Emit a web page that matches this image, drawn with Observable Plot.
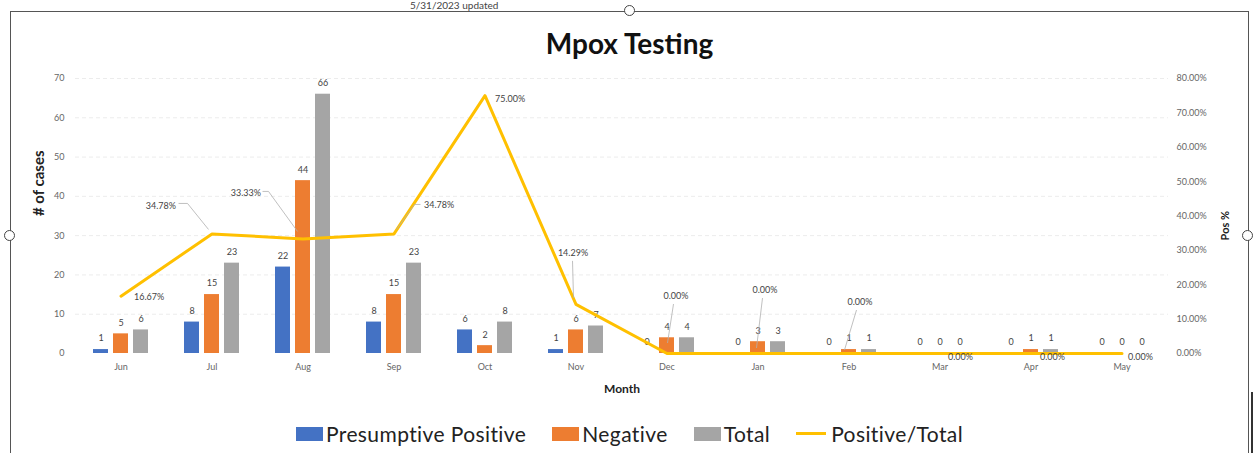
<!DOCTYPE html>
<html>
<head>
<meta charset="utf-8">
<script src="https://cdn.jsdelivr.net/npm/d3@7"></script>
<script src="https://cdn.jsdelivr.net/npm/@observablehq/plot@0.6"></script>
<style>
  html, body { margin: 0; padding: 0; background: #fff; }
  body { width: 1259px; height: 453px; overflow: hidden; position: relative; font-family: Lato, "Open Sans", sans-serif; }
  #stamp { position: absolute; left: 410px; top: 0px; font-size: 10px; line-height: 10px; color: #444; }
  .fr { position: absolute; background: #555; }
  .handle { position: absolute; width: 9px; height: 9px; border: 1.5px solid #444; border-radius: 50%; background: #fff; }
  #title { position: absolute; left: 0; top: 26px; width: 1259px; text-align: center; font-weight: 700; font-size: 28px; color: #111; }
  #chart { position: absolute; left: 0; top: 62px; }
  #legend { position: absolute; left: 0; top: 421px; width: 1259px; display: flex; justify-content: center; align-items: center; font-size: 21px; letter-spacing: 0.4px; color: #222; }
  .item { display: flex; align-items: center; margin: 0 13px; }
  .sw { width: 27px; height: 14px; margin-right: 3px; }
  .ln { width: 30px; height: 3px; margin-right: 5px; }
</style>
</head>
<body>
<div id="stamp">5/31/2023 updated</div>
<div class="fr" style="left:10px;top:11px;width:1239px;height:1px"></div>
<div class="fr" style="left:10px;top:11px;width:1px;height:442px"></div>
<div class="fr" style="left:1248px;top:11px;width:1px;height:442px"></div>
<div class="fr" style="left:1251px;top:392px;width:2px;height:61px;background:#333"></div>
<div class="handle" style="left:624px;top:5px"></div>
<div class="handle" style="left:4px;top:230px"></div>
<div class="handle" style="left:1242px;top:230px"></div>
<div id="title">Mpox Testing</div>
<div id="chart"></div>
<div id="legend"></div>
<script>
// ---- data ----
const months = ["Jun", "Jul", "Aug", "Sep", "Oct", "Nov", "Dec", "Jan", "Feb", "Mar", "Apr", "May"];
const presumptivePositive = [1, 8, 22, 8, 6, 1, 0, 0, 0, 0, 0, 0];
const negative = [5, 15, 44, 15, 2, 6, 4, 3, 1, 0, 1, 0];
const total = [6, 23, 66, 23, 8, 7, 4, 3, 1, 0, 1, 0];
const positiveRate = [16.67, 34.78, 33.33, 34.78, 75.00, 14.29, 0, 0, 0, 0, 0, 0];
const leftTicks = [0, 10, 20, 30, 40, 50, 60, 70];
const rightTicks = [0, 10, 20, 30, 40, 50, 60, 70, 80];
const seriesNames = ["Presumptive Positive", "Negative", "Total", "Positive/Total"];

// ---- styling (not data) ----
const colors = ["#4472C4", "#ED7D31", "#A5A5A5", "#FFC000"];
const barOffsets = [-20, 0, 20];
const k = 70 / 80; // right axis (0–80%) mapped onto left axis (0–70)
// percent label placement relative to its point: [dx, dy, anchor]
const pctLabelPos = [
  [13, 1, "start"], [-36, -28, "end"], [-42, -46, "end"], [30, -29, "start"],
  [10, 3, "start"], [-3, -51, "middle"], [9, -57, "middle"], [7, -63, "middle"],
  [11, -51, "middle"], [8, 4, "start"], [9, 4, "start"], [6, 4, "start"]
];
// leader lines relative to the point
const leaderLines = [
  null, [[-33, -30], [-24, -30], [-3, -4]], [[-40, -47], [-34, -47], [-5, -7]], [[27, -29], [21, -29], [3, -4]],
  null, [[-3, -43], [-2, -6]], [[7, -49], [1, -10]], [[5, -55], [-1, -5]],
  [[8, -43], [-4, -3]], null, null, null
];

const rows = months.map((m, i) => ({
  month: m, pp: presumptivePositive[i], neg: negative[i], tot: total[i], rate: positiveRate[i]
}));
const valueKeys = ["pp", "neg", "tot"];

function leaders(...args) {
  const scales = args.find(a => a && typeof a === "object" && typeof a.x === "function" && typeof a.y === "function");
  const g = d3.create("svg:g").attr("stroke", "#b0b0b0").attr("stroke-width", 0.8).attr("fill", "none");
  if (!scales) return g.node();
  const bw = typeof scales.x.bandwidth === "function" ? scales.x.bandwidth() : 0;
  leaderLines.forEach((L, j) => {
    if (!L) return;
    const px = scales.x(months[j]) + bw / 2, py = scales.y(positiveRate[j] * k);
    g.append("polyline").attr("points", L.map(([dx, dy]) => `${px + dx},${py + dy}`).join(" "));
  });
  return g.node();
}

const marks = [
  Plot.ruleY(leftTicks.slice(1), {stroke: "#ececec", strokeDasharray: "4,3"}),
  Plot.axisY(leftTicks, {anchor: "left", tickSize: 0, tickPadding: 11, fontSize: 9, fill: "#666", label: null}),
  Plot.axisY(rightTicks.map(d => d * k), {anchor: "right", tickSize: 0, tickPadding: 8, fontSize: 9, fill: "#666", label: null,
    tickFormat: d => (d / k).toFixed(2) + "%"}),
  Plot.axisX({tickSize: 0, tickPadding: 10, fontSize: 9, fill: "#666", label: null}),
  Plot.text(["# of cases"], {frameAnchor: "left", rotate: -90, dx: -36, fontSize: 15, fontWeight: "bold", fill: "#222"}),
  Plot.text(["Pos %"], {frameAnchor: "right", rotate: -90, dx: 57, dy: -5, fontSize: 11, fontWeight: "bold", fill: "#222"}),
  Plot.text(["Month"], {frameAnchor: "bottom", dy: 39, fontSize: 12, fontWeight: "bold", fill: "#222"}),
  ...valueKeys.map((key, s) => Plot.barY(rows, {x: "month", y: key, fill: colors[s], dx: barOffsets[s]})),
  ...valueKeys.map((key, s) => Plot.text(rows, {x: "month", y: key, text: d => String(d[key]), dx: barOffsets[s], dy: -11, fontSize: 9, fill: "#444"})),
  Plot.line(rows, {x: "month", y: d => d.rate * k, stroke: colors[3], strokeWidth: 3}),
  leaders,
  ...rows.map((r, j) => Plot.text([r], {x: "month", y: d => d.rate * k, text: d => d.rate.toFixed(2) + "%",
    dx: pctLabelPos[j][0], dy: pctLabelPos[j][1], textAnchor: pctLabelPos[j][2], fontSize: 9, fill: "#444"}))
];

const chart = Plot.plot({
  width: 1259,
  height: 343,
  marginLeft: 75,
  marginRight: 91,
  marginTop: 16,
  marginBottom: 52,
  style: {fontFamily: "Lato, 'Open Sans', sans-serif", background: "transparent", overflow: "visible"},
  x: {type: "band", domain: months, paddingInner: 0.835, paddingOuter: 0.4225, axis: null},
  y: {domain: [0, 70], axis: null},
  marks
});
document.getElementById("chart").appendChild(chart);

// legend
const legend = d3.select("#legend");
seriesNames.forEach((name, i) => {
  const it = legend.append("div").attr("class", "item");
  it.append("div").attr("class", i < 3 ? "sw" : "ln").style("background", colors[i]);
  it.append("span").text(name);
});
</script>
</body>
</html>
